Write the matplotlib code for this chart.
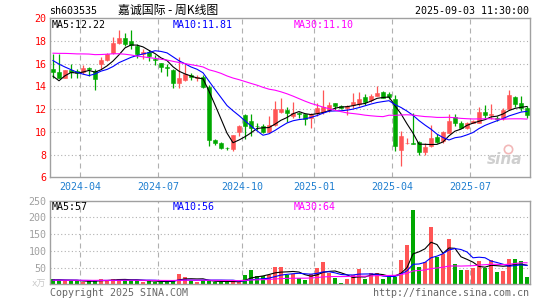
import matplotlib
matplotlib.use('Agg')
import matplotlib.pyplot as plt
import matplotlib.transforms as mtrans
import pandas as pd

# ---------------- data ----------------
code = "sh603535"
title = "嘉诚国际 - 周K线图"
stamp = "2025-09-03 11:30:00"

open_ = [15.5, 15.3, 14.78, 15.42, 15.33, 15.25, 15.66, 15.4, 16.0, 16.3,
         16.95, 17.8, 18.24, 18.04, 17.53, 16.83, 17.0, 16.45, 16.07, 15.72,
         15.43, 14.26, 14.55, 15.0, 14.7, 14.8, 13.93, 9.25, 9.0, 8.6,
         8.45, 10.0, 11.5, 11.0, 10.55, 10.53, 10.0, 10.6, 11.73, 11.94,
         11.37, 11.62, 11.53, 11.22, 11.7, 11.76, 11.93, 12.5, 12.28, 12.08,
         12.35, 12.42, 13.06, 12.77, 13.2, 13.5, 13.3, 12.88, 8.43, 9.0,
         9.06, 9.12, 8.24, 8.76, 9.56, 9.2, 9.94, 11.35, 10.74, 10.38,
         10.8, 10.82, 11.76, 11.47, 11.26, 11.18, 12.0, 13.03, 12.53, 12.06]
high = [16.9, 16.89, 15.48, 16.0, 15.57, 15.9, 15.72, 15.54, 16.6, 16.95,
        18.35, 19.0, 18.7, 18.94, 17.7, 17.3, 17.2, 16.8, 16.1, 16.0,
        15.55, 16.6, 15.95, 15.15, 15.0, 15.0, 14.1, 9.35, 9.15, 8.7,
        9.75, 10.6, 11.56, 11.6, 10.8, 10.68, 11.4, 12.73, 12.94, 12.15,
        12.62, 11.76, 11.55, 11.65, 12.5, 13.65, 12.65, 12.55, 12.35, 12.38,
        13.38, 13.5, 13.32, 13.32, 14.0, 13.56, 13.52, 13.23, 10.04, 9.5,
        11.65, 9.2, 9.06, 10.62, 9.8, 10.1, 11.56, 11.56, 10.97, 10.88,
        11.03, 12.2, 12.38, 12.44, 11.4, 12.06, 13.7, 13.18, 13.12, 12.3]
low = [14.75, 14.7, 14.7, 14.7, 14.7, 15.1, 14.9, 13.67, 15.5, 16.24,
       16.9, 17.75, 17.56, 17.33, 16.5, 16.4, 16.2, 15.85, 15.3, 14.9,
       13.9, 13.9, 14.45, 14.55, 14.5, 13.82, 8.75, 8.82, 8.47, 8.38,
       8.35, 9.65, 9.4, 9.65, 10.2, 9.94, 9.9, 10.53, 11.7, 10.9,
       11.2, 11.26, 10.62, 10.35, 11.4, 11.56, 11.76, 11.94, 12.0, 11.5,
       12.1, 12.3, 12.35, 12.65, 13.12, 12.94, 12.93, 8.34, 7.0, 8.95,
       8.95, 7.97, 7.97, 8.7, 9.0, 9.06, 9.88, 10.53, 10.3, 10.24,
       10.76, 10.76, 11.26, 11.12, 11.0, 11.06, 11.94, 12.15, 11.85, 11.26]
close = [15.25, 14.78, 15.42, 15.28, 15.19, 15.66, 15.51, 14.66, 16.33, 16.89,
         17.8, 18.24, 17.71, 17.62, 16.82, 17.03, 16.7, 16.3, 15.72, 15.63,
         14.31, 14.75, 15.1, 14.8, 14.8, 13.93, 9.3, 9.05, 8.62, 8.55,
         9.7, 10.5, 10.5, 10.3, 10.5, 10.0, 10.6, 12.0, 12.02, 11.7,
         11.66, 11.55, 11.1, 11.6, 12.1, 12.15, 12.33, 12.24, 12.12, 12.25,
         12.6, 12.9, 12.65, 13.15, 13.45, 13.0, 13.1, 8.78, 9.6, 9.05,
         8.92, 8.25, 8.7, 9.5, 9.12, 10.0, 10.94, 10.76, 10.38, 10.8,
         10.97, 11.76, 11.47, 11.59, 11.12, 11.94, 13.26, 12.44, 12.06, 11.47]
volume = [17, 14, 9, 10, 10, 7, 10, 10, 17, 12,
          15, 17, 12, 12, 12, 7, 10, 7, 7, 10,
          10, 32, 21, 10, 7, 12, 10, 7, 7, 7,
          10, 7, 28, 42, 24, 24, 28, 53, 53, 28,
          30, 19, 14, 30, 48, 67, 34, 20, 3, 17,
          27, 45, 17, 33, 33, 17, 21, 21, 73, 117,
          222, 53, 66, 171, 82, 90, 134, 61, 44, 44,
          48, 70, 50, 72, 38, 40, 76, 76, 70, 23]
# weeks before the visible window (only feed the moving averages)
prior_close = [15.2, 15.5, 15.8, 16.0, 15.7, 15.9, 16.2, 16.0, 16.1, 16.6,
               18.2, 19.0, 19.6, 19.7, 19.1, 18.7, 18.3, 18.0, 17.8, 17.6,
               17.9, 18.0, 17.6, 17.5, 17.3, 16.78, 13.2, 13.87, 15.4]
prior_volume = [12, 13, 11, 12, 14, 12, 11, 13, 12, 12,
                14, 13, 12, 11, 12, 13, 12, 11, 12, 13,
                12, 11, 10, 12, 13, 12, 14, 12, 11]

date_ticks = [5, 18, 32, 44, 57, 70]
date_labels = ['2024-04', '2024-07', '2024-10', '2025-01', '2025-04', '2025-07']
price_ticks = [6, 8, 10, 12, 14, 16, 18, 20]
vol_ticks = [50, 100, 150, 200, 250]
price_legend = ['MA5:12.22', 'MA10:11.81', 'MA30:11.10']
vol_legend = ['MA5:57', 'MA10:56', 'MA30:64']

# ---------------- style ----------------
plt.rcParams['font.family'] = ['DejaVu Sans Mono', 'Noto Sans CJK SC']
RED = '#ff5555'
GREEN = '#00a800'
MA_COLORS = ['#000000', '#0000ff', '#ff00ff']
GRID = '#b0b0b0'
FRAME = '#a0a0a0'
FS = 7.2

W, H = 545, 300
fig = plt.figure(figsize=(W / 100, H / 100), dpi=100)
fig.patch.set_facecolor('white')


def px_rect(x0, y0, x1, y1):
    return [x0 / W, 1 - y1 / H, (x1 - x0) / W, (y1 - y0) / H]


ax1 = fig.add_axes(px_rect(50, 18.3, 530, 177.3))
ax2 = fig.add_axes(px_rect(50, 200.7, 530, 284.3))

n = len(close)
x = list(range(n))
up = [c >= o for o, c in zip(open_, close)]
colors = [RED if u else GREEN for u in up]


def mas(prior, vals, windows=(5, 10, 30)):
    s = pd.Series(list(prior) + list(vals), dtype=float)
    return [s.rolling(w).mean().iloc[len(prior):].values for w in windows]


for ax in (ax1, ax2):
    ax.set_xlim(-0.5, n - 0.5)
    for sp in ax.spines.values():
        sp.set_color(FRAME)
        sp.set_linewidth(1.0)
    for t in date_ticks:
        ax.axvline(t - 0.45, color=GRID, lw=0.8, ls=(0, (4.5, 3.6)), zorder=0)
    ax.tick_params(axis='x', length=0, labelbottom=False)
    ax.tick_params(axis='y', length=0, pad=2.4, labelsize=FS)

# ---- price panel ----
ax1.set_ylim(6, 20)
ax1.set_yticks(price_ticks)
ax1.tick_params(axis='y', labelcolor='#ff0000')
for v in price_ticks[1:-1]:
    ax1.axhline(v, color=GRID, lw=0.8, ls=(0, (1, 2.2)), zorder=0)

ax1.vlines(x, low, high, colors=colors, lw=0.9, zorder=2)
bottoms = [min(o, c) for o, c in zip(open_, close)]
heights = [max(abs(c - o), 0.06) for o, c in zip(open_, close)]
ax1.bar(x, heights, bottom=bottoms, width=0.78, color=colors,
        edgecolor=colors, linewidth=0.4, zorder=3)

for ma, col in zip(mas(prior_close, close), MA_COLORS):
    ax1.plot(x, ma, color=col, lw=0.8, zorder=4)

# sina watermark
ax1.text(0.985, 0.11, 'sina', transform=ax1.transAxes, ha='right', va='center',
         fontsize=11, fontstyle='italic', fontweight='bold',
         family='DejaVu Sans', color='#cfcfcf', zorder=1)
ax1.plot([0.955], [0.175], transform=ax1.transAxes, marker='o', ms=6,
         mfc='none', mec='#f2b8b8', mew=1.2, zorder=1)

# ---- volume panel ----
ax2.set_ylim(0, 250)
ax2.set_yticks(vol_ticks)
ax2.tick_params(axis='y', labelcolor='#a0a0a0')
for v in vol_ticks[:-1]:
    ax2.axhline(v, color=GRID, lw=0.8, ls=(0, (1, 2.2)), zorder=0)
ax2.bar(x, volume, width=0.83, color=colors, linewidth=0, zorder=2)
for ma, col in zip(mas(prior_volume, volume), MA_COLORS):
    ax2.plot(x, ma, color=col, lw=0.8, zorder=3)

# ---- date labels between panels ----
tr = mtrans.blended_transform_factory(ax1.transData, fig.transFigure)
for t, lab in zip(date_ticks, date_labels):
    fig.text(t - 0.45, 1 - 186.5 / H, lab, transform=tr, ha='center',
             va='center', fontsize=FS, color='#1f7fd0')

# ---- texts ----
def ftext(px, py, s, **kw):
    fig.text(px / W, 1 - py / H, s, **kw)


ftext(49, 10.5, code, fontsize=FS, color='#000000', va='center', ha='left')
ftext(118, 10.5, title, fontsize=8.6, color='#000000', va='center', ha='left',
      family=['Noto Sans CJK SC', 'DejaVu Sans'])
ftext(529, 10.5, stamp, fontsize=FS, color='#000000', va='center', ha='right')

for px, s, col in zip([52, 173, 294], price_legend, MA_COLORS):
    ftext(px, 24.5, s, fontsize=FS, color=col, va='center', ha='left')
for px, s, col in zip([52, 173, 294], vol_legend, MA_COLORS):
    ftext(px, 206.5, s, fontsize=FS, color=col, va='center', ha='left')

ftext(46.5, 284.5, 'x万', fontsize=6.5, color='#c8c8c8', va='center', ha='right')
ftext(50, 293.5, 'Copyright 2025 SINA.COM', fontsize=FS, color='#666666',
      va='center', ha='left')
ftext(529, 293.5, 'http://finance.sina.com.cn', fontsize=FS, color='#666666',
      va='center', ha='right')

fig.savefig('out.png', dpi=100, facecolor='white')
